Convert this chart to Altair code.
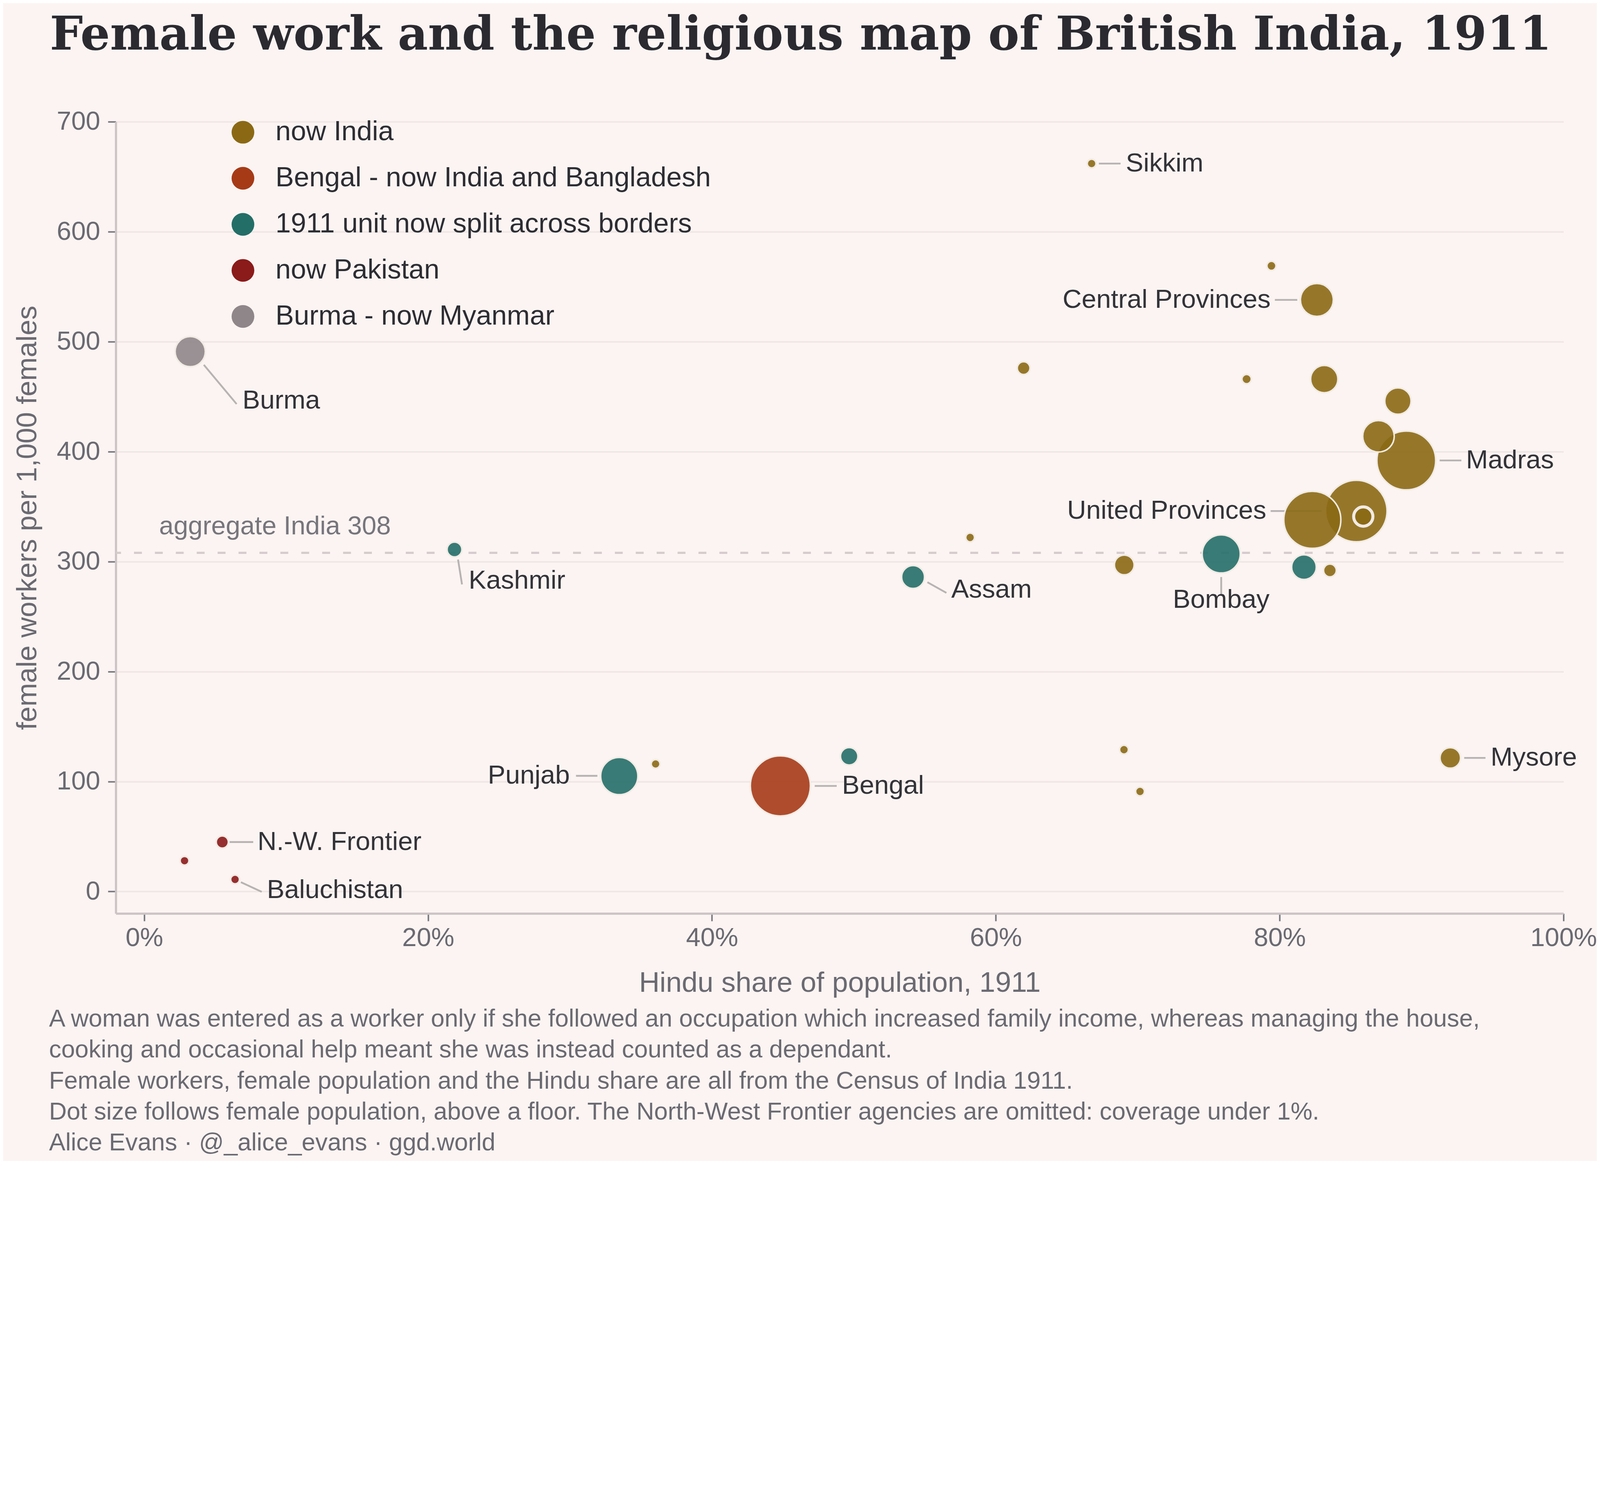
import altair as alt
import pandas as pd

# ---------------- data ----------------
hindu_share = [0.6675, 0.7942, 0.8262, 0.6196, 0.7767, 0.8314, 0.8833, 0.8696, 0.8892, 0.8540,
               0.8230, 0.8589, 0.7588, 0.6905, 0.8171, 0.8354, 0.5819, 0.5417, 0.2186, 0.0324,
               0.9202, 0.6903, 0.7016, 0.4967, 0.4482, 0.3347, 0.3603, 0.0550, 0.0284, 0.0640]
workers = [662, 569, 538, 476, 466, 466, 446, 414, 392, 346,
           338, 341, 307, 297, 295, 292, 322, 286, 311, 491,
           121.5, 129, 91, 123, 96, 105, 116, 45, 28, 11]
female_pop_m = [0.46, 0.49, 6.4, 0.96, 0.52, 4.4, 4.1, 5.9, 20.5, 22.4,
                19.3, 2.2, 8.6, 2.3, 3.6, 0.96, 0.46, 3.1, 1.3, 5.4,
                2.5, 0.46, 0.46, 1.8, 21.4, 8.2, 0.46, 0.87, 0.46, 0.46]
group_code = ["I", "I", "I", "I", "I", "I", "I", "I", "I", "I",
              "I", "I", "S", "I", "S", "I", "I", "S", "S", "M",
              "I", "I", "I", "S", "B", "S", "I", "P", "P", "P"]
unit_name = ["Sikkim", "", "Central Provinces", "", "", "", "", "", "Madras", "United Provinces",
             "", "", "Bombay", "", "", "", "", "Assam", "Kashmir", "Burma",
             "Mysore", "", "", "", "Bengal", "Punjab", "", "N.-W. Frontier", "", "Baluchistan"]

group_names = {
    "I": "now India",
    "B": "Bengal - now India and Bangladesh",
    "S": "1911 unit now split across borders",
    "P": "now Pakistan",
    "M": "Burma - now Myanmar",
}
legend_order = ["now India", "Bengal - now India and Bangladesh",
                "1911 unit now split across borders", "now Pakistan", "Burma - now Myanmar"]
legend_colors = ["#8B6914", "#A63A17", "#246E68", "#8B1A1A", "#8F8689"]

label_names = ["Sikkim", "Central Provinces", "Madras", "United Provinces", "Bombay", "Assam",
               "Kashmir", "Burma", "Mysore", "Bengal", "Punjab", "N.-W. Frontier", "Baluchistan"]
label_x = [0.6916, 0.7936, 0.9313, 0.7906, 0.7588, 0.5686, 0.2286, 0.0692, 0.9486, 0.4916,
           0.2999, 0.0798, 0.0864]
label_y = [662, 538, 392, 346, 265, 274.4, 282.4, 446.3, 121.5, 96, 105.2, 45, 1.3]
label_align = ["left", "right", "left", "right", "center", "left", "left", "left", "left",
               "left", "right", "left", "left"]
leader_x1 = [0.6726, 0.7966, 0.9127, 0.7936, 0.7588, 0.5518, 0.2211, 0.0420, 0.9300, 0.4724,
             0.3042, 0.0602, 0.0681]
leader_y1 = [662, 538, 392, 346, 286, 281.3, 301.9, 479, 121.5, 96, 105.2, 45, 8.5]
leader_x2 = [0.6879, 0.8124, 0.9280, 0.8294, 0.7588, 0.5652, 0.2239, 0.0651, 0.9450, 0.4879,
             0.3193, 0.0768, 0.0828]
leader_y2 = [662, 538, 392, 346, 269, 271.6, 279.3, 443.3, 121.5, 96, 105.2, 45, -0.3]

aggregate_value = 308
aggregate_label = "aggregate India 308"
aggregate_label_x = 0.0105
aggregate_label_y = 332

x_ticks = [0, 0.2, 0.4, 0.6, 0.8, 1.0]
y_ticks = [0, 100, 200, 300, 400, 500, 600, 700]

title_text = "Female work and the religious map of British India, 1911"
footnote_lines = [
    "A woman was entered as a worker only if she followed an occupation which increased family income, whereas managing the house,",
    "cooking and occasional help meant she was instead counted as a dependant.",
    "Female workers, female population and the Hindu share are all from the Census of India 1911.",
    "Dot size follows female population, above a floor. The North-West Frontier agencies are omitted: coverage under 1%.",
    "Alice Evans \u00b7 @_alice_evans \u00b7 ggd.world",
]

# ---------------- tables ----------------
points = pd.DataFrame({
    "hindu": hindu_share,
    "workers": workers,
    "pop": female_pop_m,
    "group": [group_names[g] for g in group_code],
    "unit": unit_name,
})
labels = pd.DataFrame({
    "name": label_names, "lx": label_x, "ly": label_y, "align": label_align,
    "x1": leader_x1, "y1": leader_y1, "x2": leader_x2, "y2": leader_y2,
})
agg = pd.DataFrame({"y": [aggregate_value]})
agg_text = pd.DataFrame({"x": [aggregate_label_x], "y": [aggregate_label_y], "t": [aggregate_label]})

SANS = "Liberation Sans"
GREY = "#6b6a72"
DARK = "#333338"

xscale = alt.Scale(domain=[-0.02, 1.0], nice=False, zero=False)
yscale = alt.Scale(domain=[-20, 700], nice=False, zero=False)
xaxis = alt.Axis(values=x_ticks, format=".0%", grid=False, domainColor="#cbc3c4", domainWidth=7,
                 tickColor="#7a7880", tickWidth=5, tickSize=25, labelFontSize=86, labelColor=GREY,
                 labelFont=SANS, labelPadding=14, labelLimit=600, labelFlush=False,
                 labelOverlap=False, titleFont=SANS, titleFontSize=94,
                 titleColor=GREY, titleFontWeight="normal", titlePadding=60)
yaxis = alt.Axis(values=y_ticks, grid=True, gridColor="#efe6e5", gridWidth=5, domainColor="#cbc3c4",
                 domainWidth=7, tickColor="#7a7880", tickWidth=5, tickSize=26, labelFontSize=86,
                 labelColor=GREY, labelFont=SANS, labelPadding=26, labelLimit=600,
                 labelFlush=False, labelOverlap=False, titleFont=SANS,
                 titleFontSize=93, titleColor=GREY, titleFontWeight="normal", titlePadding=48)
XT = "Hindu share of population, 1911"
YT = "female workers per 1,000 females"


def X(f):
    return alt.X(f, type="quantitative", scale=xscale, axis=xaxis, title=XT)


def Y(f):
    return alt.Y(f, type="quantitative", scale=yscale, axis=yaxis, title=YT)


dash = alt.Chart(agg).mark_rule(color="#d5cbcc", strokeWidth=7, strokeDash=[26, 43]).encode(y=Y("y"))

agg_lbl = alt.Chart(agg_text).mark_text(align="left", baseline="middle", font=SANS, fontSize=86,
                                         color="#77757c").encode(x=X("x"), y=Y("y"), text="t:N")

leaders = alt.Chart(labels).mark_rule(color="#b8b3b3", strokeWidth=6).encode(
    x=X("x1"), y=Y("y1"), x2="x2:Q", y2="y2:Q")

# circle symbol size in Vega is the square of the diameter
dots = alt.Chart(points).mark_circle(fillOpacity=0.9, opacity=1, stroke="#f1ebe4",
                                     strokeOpacity=1).encode(
    x=X("hindu"),
    y=Y("workers"),
    size=alt.Size("pop:Q", scale=alt.Scale(domain=[0, 25], range=[0, 45900]), legend=None),
    color=alt.Color("group:N", scale=alt.Scale(domain=legend_order, range=legend_colors),
                    legend=alt.Legend(title=None, orient="none", legendX=374, legendY=-11,
                                      symbolType="circle", symbolSize=5625, symbolOpacity=1,
                                      symbolStrokeWidth=0, labelFont=SANS, labelFontSize=91,
                                      labelColor="#2d2d33", labelOffset=62, rowPadding=60,
                                      labelLimit=3000)),
    strokeWidth=alt.condition("datum.hindu == 0.8589", alt.value(10), alt.value(5)),
    order=alt.Order("pop:Q", sort="descending"),
)


def text_layer(al):
    return alt.Chart(labels).transform_filter(alt.datum.align == al).mark_text(
        align=al, baseline="middle", font=SANS, fontSize=87, color=DARK
    ).encode(x=X("lx"), y=Y("ly"), text="name:N")


main = alt.layer(
    dash, agg_lbl, leaders, dots, text_layer("left"), text_layer("right"), text_layer("center")
)

# invisible layer whose own bottom axis carries the footnote as its title
foot = alt.Chart(agg).mark_rule(opacity=0).encode(
    x=alt.X("y:Q", scale=alt.Scale(domain=[0, 1000]),
            axis=alt.Axis(orient="bottom", domain=False, ticks=False, labels=False, grid=False,
                          title=footnote_lines, titleX=-221, titleY=373, titleAlign="left",
                          titleAnchor="start", titleBaseline="alphabetic", titleAngle=0,
                          titleFont=SANS, titleFontSize=81, titleLineHeight=102,
                          titleFontWeight="normal", titleColor=GREY, titleLimit=6000))
)

chart = alt.layer(main, foot).resolve_scale(x="independent").properties(
    width=4778, height=2613,
    title=alt.TitleParams(text=title_text, anchor="start", frame="group", dx=-218, offset=0, dy=-41,
                          baseline="alphabetic", font="DejaVu Serif", fontSize=154,
                          fontWeight="bold", color="#2b2a30"),
    autosize=alt.AutoSizeParams(type="none"),
    padding={"left": 372, "top": -37, "right": 110, "bottom": 388},
    background="#fbf4f2",
).configure_view(stroke=None)

chart.save("out.html", embed_options={"renderer": "svg", "actions": False})
